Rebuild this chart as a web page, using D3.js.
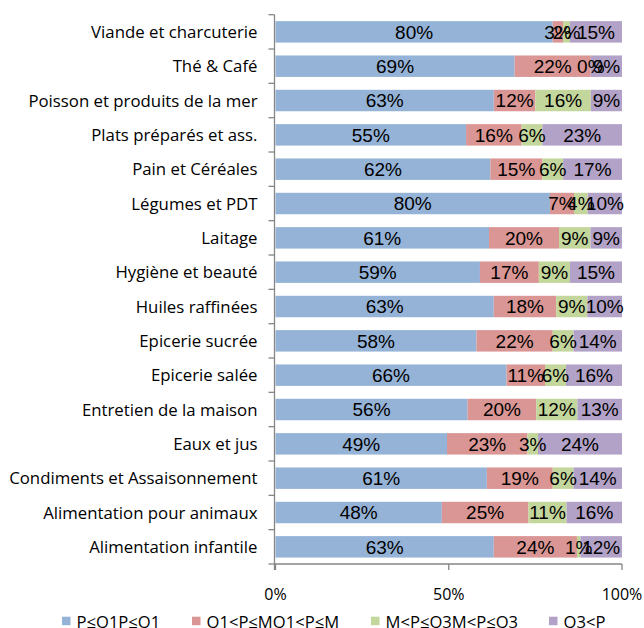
<!DOCTYPE html>
<html>
<head>
<meta charset="utf-8">
<script src="https://cdn.jsdelivr.net/npm/d3@7"></script>
<style>
  body { margin: 0; background: #fff; }
  .cat { font: 16.8px "Open Sans", sans-serif; fill: #000; }
  .tick-label { font: 16px "Open Sans", sans-serif; fill: #000; }
  .bar-label { font: 19px "Liberation Sans", Arial, sans-serif; fill: #000; }
  .legend-label { font: 16.6px "Open Sans", sans-serif; fill: #000; }
</style>
</head>
<body>
<svg id="chart" width="644" height="628"></svg>
<script>
var categories = [
  "Viande et charcuterie", "Thé & Café", "Poisson et produits de la mer",
  "Plats préparés et ass.", "Pain et Céréales", "Légumes et PDT", "Laitage",
  "Hygiène et beauté", "Huiles raffinées", "Epicerie sucrée", "Epicerie salée",
  "Entretien de la maison", "Eaux et jus", "Condiments et Assaisonnement",
  "Alimentation pour animaux", "Alimentation infantile"
];
var seriesNames = ["P≤Q1P≤Q1", "Q1<P≤MQ1<P≤M", "M<P≤Q3M<P≤Q3", "Q3<P"];
var q1Values  = [80, 69, 63, 55, 62, 80, 61, 59, 63, 58, 66, 56, 49, 61, 48, 63];
var medValues = [3, 22, 12, 16, 15, 7, 20, 17, 18, 22, 11, 20, 23, 19, 25, 24];
var q3Values  = [2, 0, 16, 6, 6, 4, 9, 9, 9, 6, 6, 12, 3, 6, 11, 1];
var topValues = [15, 9, 9, 23, 17, 10, 9, 15, 10, 14, 16, 13, 24, 14, 16, 12];
var xTicks = [0, 0.5, 1];
var colors = ["#95B3D7", "#D99694", "#C3D69B", "#B3A2C7"];

var svg = d3.select("#chart"),
    margin = {top: 14.7, left: 274.5, right: 22, bottom: 64},
    width = 644 - margin.left - margin.right,
    height = 628 - margin.top - margin.bottom;

var rows = categories.map(function(c, i) {
  return {cat: c, s0: q1Values[i], s1: medValues[i], s2: q3Values[i], s3: topValues[i]};
});
var keys = ["s0", "s1", "s2", "s3"];

// 100% stacked
var stack = d3.stack().keys(keys).offset(d3.stackOffsetExpand);
var layers = stack(rows);

var x = d3.scaleLinear().domain([0, 1]).range([margin.left + 1, margin.left + width]);
var y = d3.scaleBand().domain(categories).range([margin.top, margin.top + height]).paddingInner(0.375).paddingOuter(0.1875);

var g = svg.append("g");

// bars
var layer = g.selectAll(".layer").data(layers).enter().append("g")
  .attr("fill", function(d, i) { return colors[i]; });

layer.selectAll("rect").data(function(d) { return d; }).enter().append("rect")
  .attr("x", function(d) { return x(d[0]); })
  .attr("y", function(d) { return y(d.data.cat); })
  .attr("width", function(d) { return Math.max(0, x(d[1]) - x(d[0])); })
  .attr("height", y.bandwidth());

// bar labels
layers.forEach(function(l, li) {
  g.selectAll(".lbl" + li).data(l).enter().append("text")
    .attr("class", "bar-label")
    .attr("x", function(d) { return (x(d[0]) + x(d[1])) / 2; })
    .attr("y", function(d) { return y(d.data.cat) + y.bandwidth() / 2; })
    .attr("dy", "0.36em")
    .attr("text-anchor", "middle")
    .text(function(d) { return d.data[l.key] + "%"; });
});

// y axis
var axisColor = "#868686";
var yTop = margin.top, yBot = margin.top + height;
g.append("line").attr("x1", margin.left).attr("x2", margin.left)
  .attr("y1", yTop).attr("y2", yBot + 6).attr("stroke", axisColor).attr("stroke-width", 1.3);
var step = y.step();
d3.range(categories.length + 1).forEach(function(i) {
  var yy = yTop + i * step;
  g.append("line").attr("x1", margin.left - 6).attr("x2", margin.left)
    .attr("y1", yy).attr("y2", yy).attr("stroke", axisColor).attr("stroke-width", 1.3);
});
g.selectAll(".cat").data(categories).enter().append("text")
  .attr("class", "cat")
  .attr("x", margin.left - 17)
  .attr("y", function(d) { return y(d) + y.bandwidth() / 2; })
  .attr("dy", "0.36em")
  .attr("text-anchor", "end")
  .text(function(d) { return d; });

// x axis
g.append("line").attr("x1", margin.left).attr("x2", x(1))
  .attr("y1", yBot).attr("y2", yBot).attr("stroke", axisColor).attr("stroke-width", 1.3);
xTicks.forEach(function(t) {
  g.append("line").attr("x1", x(t)).attr("x2", x(t))
    .attr("y1", yBot).attr("y2", yBot + 6).attr("stroke", axisColor).attr("stroke-width", 1.3);
  g.append("text").attr("class", "tick-label")
    .attr("x", x(t)).attr("y", yBot + 30).attr("dy", "0.36em")
    .attr("text-anchor", "middle")
    .text(d3.format(".0%")(t));
});

// legend (bottom, partly cut like the original)
var legendX = [62, 192, 371, 549];
var legend = svg.append("g");
seriesNames.forEach(function(name, i) {
  legend.append("rect").attr("x", legendX[i]).attr("y", 616.7).attr("width", 8.5).attr("height", 8.5)
    .attr("fill", colors[i]);
  legend.append("text").attr("class", "legend-label")
    .attr("x", legendX[i] + 14.5).attr("y", 627.5)
    .text(name);
});
</script>
</body>
</html>
